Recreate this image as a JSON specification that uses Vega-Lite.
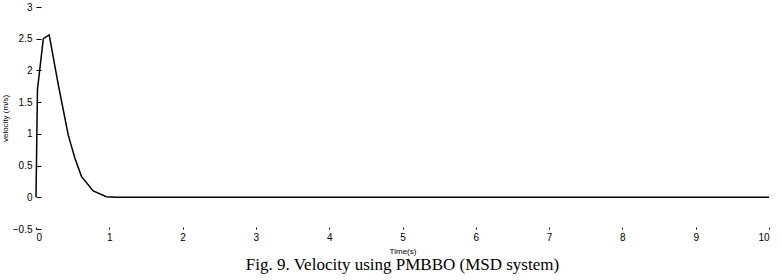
{
  "$schema": "https://vega.github.io/schema/vega-lite/v6.json",
  "width": 733,
  "height": 222,
  "autosize": {"type": "none"},
  "padding": {"left": 36, "top": 7, "right": 13, "bottom": 51},
  "background": "white",
  "config": {
    "view": {"stroke": null},
    "axis": {"domain": false, "grid": false, "labelFont": "Liberation Sans", "titleFont": "Liberation Sans", "labelColor": "#000", "titleColor": "#000", "tickColor": "#000", "labelFontSize": 10, "titleFontSize": 8, "titleFontWeight": "normal"}
  },
  "title": {"text": "Fig. 9. Velocity using PMBBO (MSD system)", "orient": "bottom", "font": "Liberation Serif", "fontSize": 17, "fontWeight": "normal", "color": "#000", "offset": 2, "anchor": "middle"},
  "data": {"values": [
    {"t": 0, "v": 0},
    {"t": 0.02, "v": 1.7},
    {"t": 0.1, "v": 2.5},
    {"t": 0.18, "v": 2.56},
    {"t": 0.3, "v": 1.8},
    {"t": 0.44, "v": 0.98},
    {"t": 0.53, "v": 0.62},
    {"t": 0.62, "v": 0.33},
    {"t": 0.78, "v": 0.1},
    {"t": 0.96, "v": 0.01},
    {"t": 1.1, "v": 0},
    {"t": 2, "v": 0},
    {"t": 5, "v": 0},
    {"t": 10, "v": 0}
  ]},
  "mark": {"type": "line", "color": "#000", "strokeWidth": 1.5},
  "encoding": {
    "x": {"field": "t", "type": "quantitative", "scale": {"domain": [0, 10], "nice": false}, "axis": {"values": [0,1,2,3,4,5,6,7,8,9,10], "tickSize": -2, "labelPadding": 5, "title": "Time(s)", "titlePadding": 5}},
    "y": {"field": "v", "type": "quantitative", "scale": {"domain": [-0.5, 3], "nice": false}, "axis": {"values": [-0.5,0,0.5,1,1.5,2,2.5,3], "format": "~g", "tickSize": -5, "labelPadding": 9, "title": "velocity (m/s)", "titlePadding": 3}}
  }
}
